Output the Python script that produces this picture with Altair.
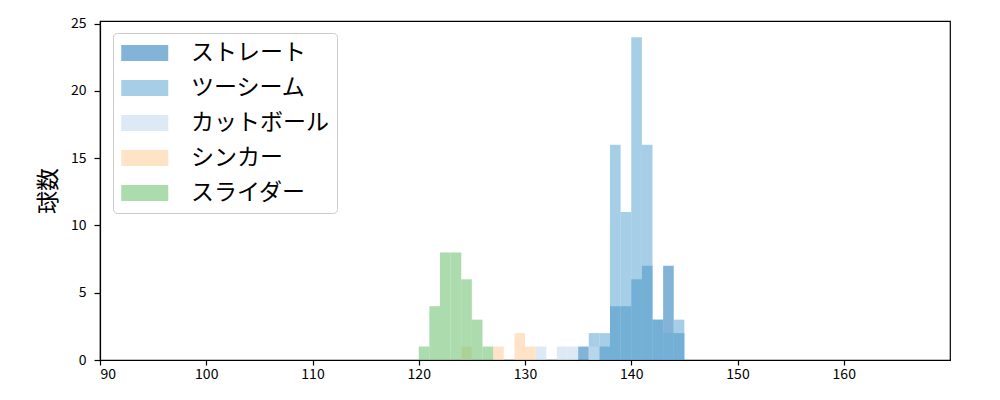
import altair as alt
import pandas as pd

pitch_types = ["ストレート", "ツーシーム", "カットボール", "シンカー", "スライダー"]
colors = ["#3182bd", "#6baed6", "#c6dbef", "#fdd0a2", "#74c476"]

straight_bins = [135, 137, 138, 139, 140, 141, 142, 143, 144]
straight_counts = [1, 1, 4, 4, 6, 7, 3, 7, 2]

twoseam_bins = [136, 137, 138, 139, 140, 141, 142, 143, 144]
twoseam_counts = [2, 2, 16, 11, 24, 16, 3, 2, 3]

cut_bins = [131, 133, 134, 136]
cut_counts = [1, 1, 1, 1]

sinker_bins = [124, 127, 129, 130]
sinker_counts = [1, 1, 2, 1]

slider_bins = [120, 121, 122, 123, 124, 125, 126]
slider_counts = [1, 4, 8, 8, 6, 3, 1]

bin_width = 1

series = [
    (straight_bins, straight_counts),
    (twoseam_bins, twoseam_counts),
    (cut_bins, cut_counts),
    (sinker_bins, sinker_counts),
    (slider_bins, slider_counts),
]

rows = []
for i, (bins, counts) in enumerate(series):
    for b, c in zip(bins, counts):
        rows.append({"type": pitch_types[i], "idx": i, "x0": b, "x1": b + bin_width, "count": c})
df = pd.DataFrame(rows)

FONT = "Noto Sans CJK JP"

chart = alt.Chart(df).mark_rect(opacity=0.6).encode(
    x=alt.X("x0:Q", scale=alt.Scale(domain=[90, 170], nice=False, zero=False),
            axis=alt.Axis(values=[90, 100, 110, 120, 130, 140, 150, 160], title=None,
                          grid=False, format="d", labelPadding=2, tickSize=5)),
    x2="x1:Q",
    y=alt.Y("count:Q", scale=alt.Scale(domain=[0, 25.2], nice=False),
            axis=alt.Axis(values=[0, 5, 10, 15, 20, 25], title="球数", grid=False,
                          titleFontSize=23, titleFontWeight="normal", titlePadding=10,
                          labelPadding=8, tickSize=6)),
    y2=alt.datum(0),
    color=alt.Color("type:N", scale=alt.Scale(domain=pitch_types, range=colors),
                    sort=pitch_types,
                    legend=alt.Legend(title=None, orient="none", legendX=13, legendY=12,
                                      symbolType="M-1,-0.68H3V0.68H-1Z", symbolSize=552,
                                      symbolOpacity=0.6, symbolStrokeWidth=0,
                                      labelFontSize=23, labelFont=FONT, labelOffset=46,
                                      rowPadding=11, padding=8,
                                      strokeColor="#cccccc", fillColor="white",
                                      cornerRadius=4)),
    order=alt.Order("idx:Q"),
).properties(
    width=850, height=339,
    autosize=alt.AutoSizeParams(type="none"),
    padding={"left": 92, "top": 13, "right": 40, "bottom": 32},
).configure_view(
    stroke="black", strokeWidth=1.2
).configure_axis(
    domainColor="black", tickColor="black", labelColor="black", titleColor="black",
    labelFont=FONT, titleFont=FONT, labelFontSize=14,
    domainWidth=1.2, tickWidth=1.2
)

chart.save("out.html", embed_options={"renderer": "svg", "actions": False})
